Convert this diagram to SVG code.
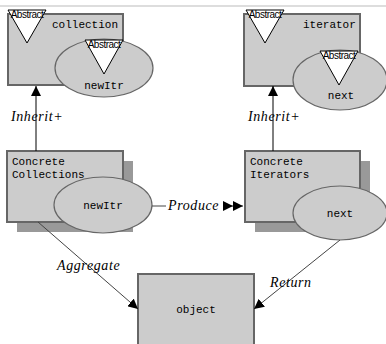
<svg xmlns="http://www.w3.org/2000/svg" width="386" height="344" viewBox="0 0 386 344">
  <style>
    .box { fill: #cccccc; stroke: #666666; stroke-width: 2; }
    .shadow { fill: #999999; }
    .oval { fill: #cccccc; stroke: #666666; stroke-width: 1.2; }
    .abs { fill: #ffffff; stroke: #000000; stroke-width: 1; }
    .abstxt { font-family: "Liberation Sans", Arial, sans-serif; font-size: 10px; fill: #000; text-anchor: middle; letter-spacing: -0.5px; }
    .mono { font-family: "Liberation Mono", "DejaVu Sans Mono", monospace; font-size: 11px; fill: #000; }
    .lbl { font-family: "Liberation Serif", "Times New Roman", serif; font-style: italic; font-size: 14px; fill: #000; letter-spacing: 0.6px; }
    .edge { stroke: #444444; stroke-width: 1; fill: none; }
    .inh { stroke: #000000; stroke-width: 1; fill: none; }
  </style>
  <defs>
    <marker id="tri" viewBox="0 0 10 10" refX="10" refY="5" markerWidth="10" markerHeight="10" markerUnits="userSpaceOnUse" orient="auto">
      <path d="M0,0 L10,5 L0,10 Z" fill="#000"/>
    </marker>
    <marker id="dbl" viewBox="0 0 20 10" refX="20" refY="5" markerWidth="20" markerHeight="10" markerUnits="userSpaceOnUse" orient="auto">
      <path d="M0,0 L10,5 L0,10 Z M10,0 L20,5 L10,10 Z" fill="#000"/>
    </marker>
  </defs>

  <!-- page rule -->
  <line x1="0" y1="6" x2="386" y2="6" stroke="#bbbbbb" stroke-width="1"/>

  <!-- abstract collection -->
  <g id="collection">
    <rect class="box" x="8" y="14" width="115" height="71"/>
    <text class="mono" x="52" y="28">collection</text>
    <polygon class="abs" points="8,10 46,10 27,43"/>
    <text class="abstxt" x="27" y="18">Abstract</text>
  </g>
  <g id="newItr-abstract">
    <ellipse class="oval" cx="104" cy="68" rx="49" ry="29"/>
    <polygon class="abs" points="85,40 123,40 104,74"/>
    <text class="abstxt" x="104" y="48">Abstract</text>
    <text class="mono" x="104" y="89" text-anchor="middle">newItr</text>
  </g>

  <!-- abstract iterator -->
  <g id="iterator">
    <rect class="box" x="244" y="14" width="116" height="72"/>
    <text class="mono" x="303" y="28">iterator</text>
    <polygon class="abs" points="246,10 284,10 265,43"/>
    <text class="abstxt" x="265" y="18">Abstract</text>
  </g>
  <g id="next-abstract">
    <ellipse class="oval" cx="340" cy="80" rx="47" ry="30"/>
    <polygon class="abs" points="320,51 358,51 339,85"/>
    <text class="abstxt" x="339" y="59">Abstract</text>
    <text class="mono" x="341" y="99" text-anchor="middle">next</text>
  </g>

  <!-- concrete collections -->
  <g id="concrete-collections">
    <rect class="shadow" x="17" y="161" width="116" height="71"/>
    <rect class="box" x="7" y="151" width="116" height="71"/>
    <text class="mono" x="12" y="165">Concrete</text>
    <text class="mono" x="12" y="178">Collections</text>
  </g>
  <g id="newItr">
    <ellipse class="oval" cx="103" cy="205" rx="49" ry="28"/>
    <text class="mono" x="103" y="209" text-anchor="middle">newItr</text>
  </g>

  <!-- concrete iterators -->
  <g id="concrete-iterators">
    <rect class="shadow" x="255" y="161" width="115" height="71"/>
    <rect class="box" x="245" y="151" width="115" height="71"/>
    <text class="mono" x="250" y="165">Concrete</text>
    <text class="mono" x="250" y="178">Iterators</text>
  </g>
  <g id="next">
    <ellipse class="oval" cx="340" cy="213" rx="47" ry="27"/>
    <text class="mono" x="340" y="217" text-anchor="middle">next</text>
  </g>

  <!-- element -->
  <g id="object">
    <rect class="box" x="138" y="274" width="116" height="80"/>
    <text class="mono" x="196" y="313" text-anchor="middle">object</text>
  </g>

  <!-- connectors -->
  <g id="connectors">
    <line class="inh" x1="36" y1="151" x2="36" y2="86" marker-end="url(#tri)"/>
    <line class="inh" x1="273" y1="151" x2="273" y2="86" marker-end="url(#tri)"/>
    <line class="edge" x1="152" y1="206" x2="243" y2="206" marker-end="url(#dbl)"/>
    <line class="edge" x1="38" y1="222" x2="138" y2="309" marker-end="url(#tri)"/>
    <line class="edge" x1="340" y1="240" x2="254" y2="309" marker-end="url(#tri)"/>

    <text class="lbl" x="11" y="121">Inherit+</text>
    <text class="lbl" x="248" y="121">Inherit+</text>
    <rect x="166" y="198" width="57" height="14" fill="#ffffff"/>
    <text class="lbl" x="168" y="210" letter-spacing="0.8">Produce</text>
    <text class="lbl" x="57" y="270">Aggregate</text>
    <text class="lbl" x="270" y="287" letter-spacing="1">Return</text>
  </g>
</svg>
